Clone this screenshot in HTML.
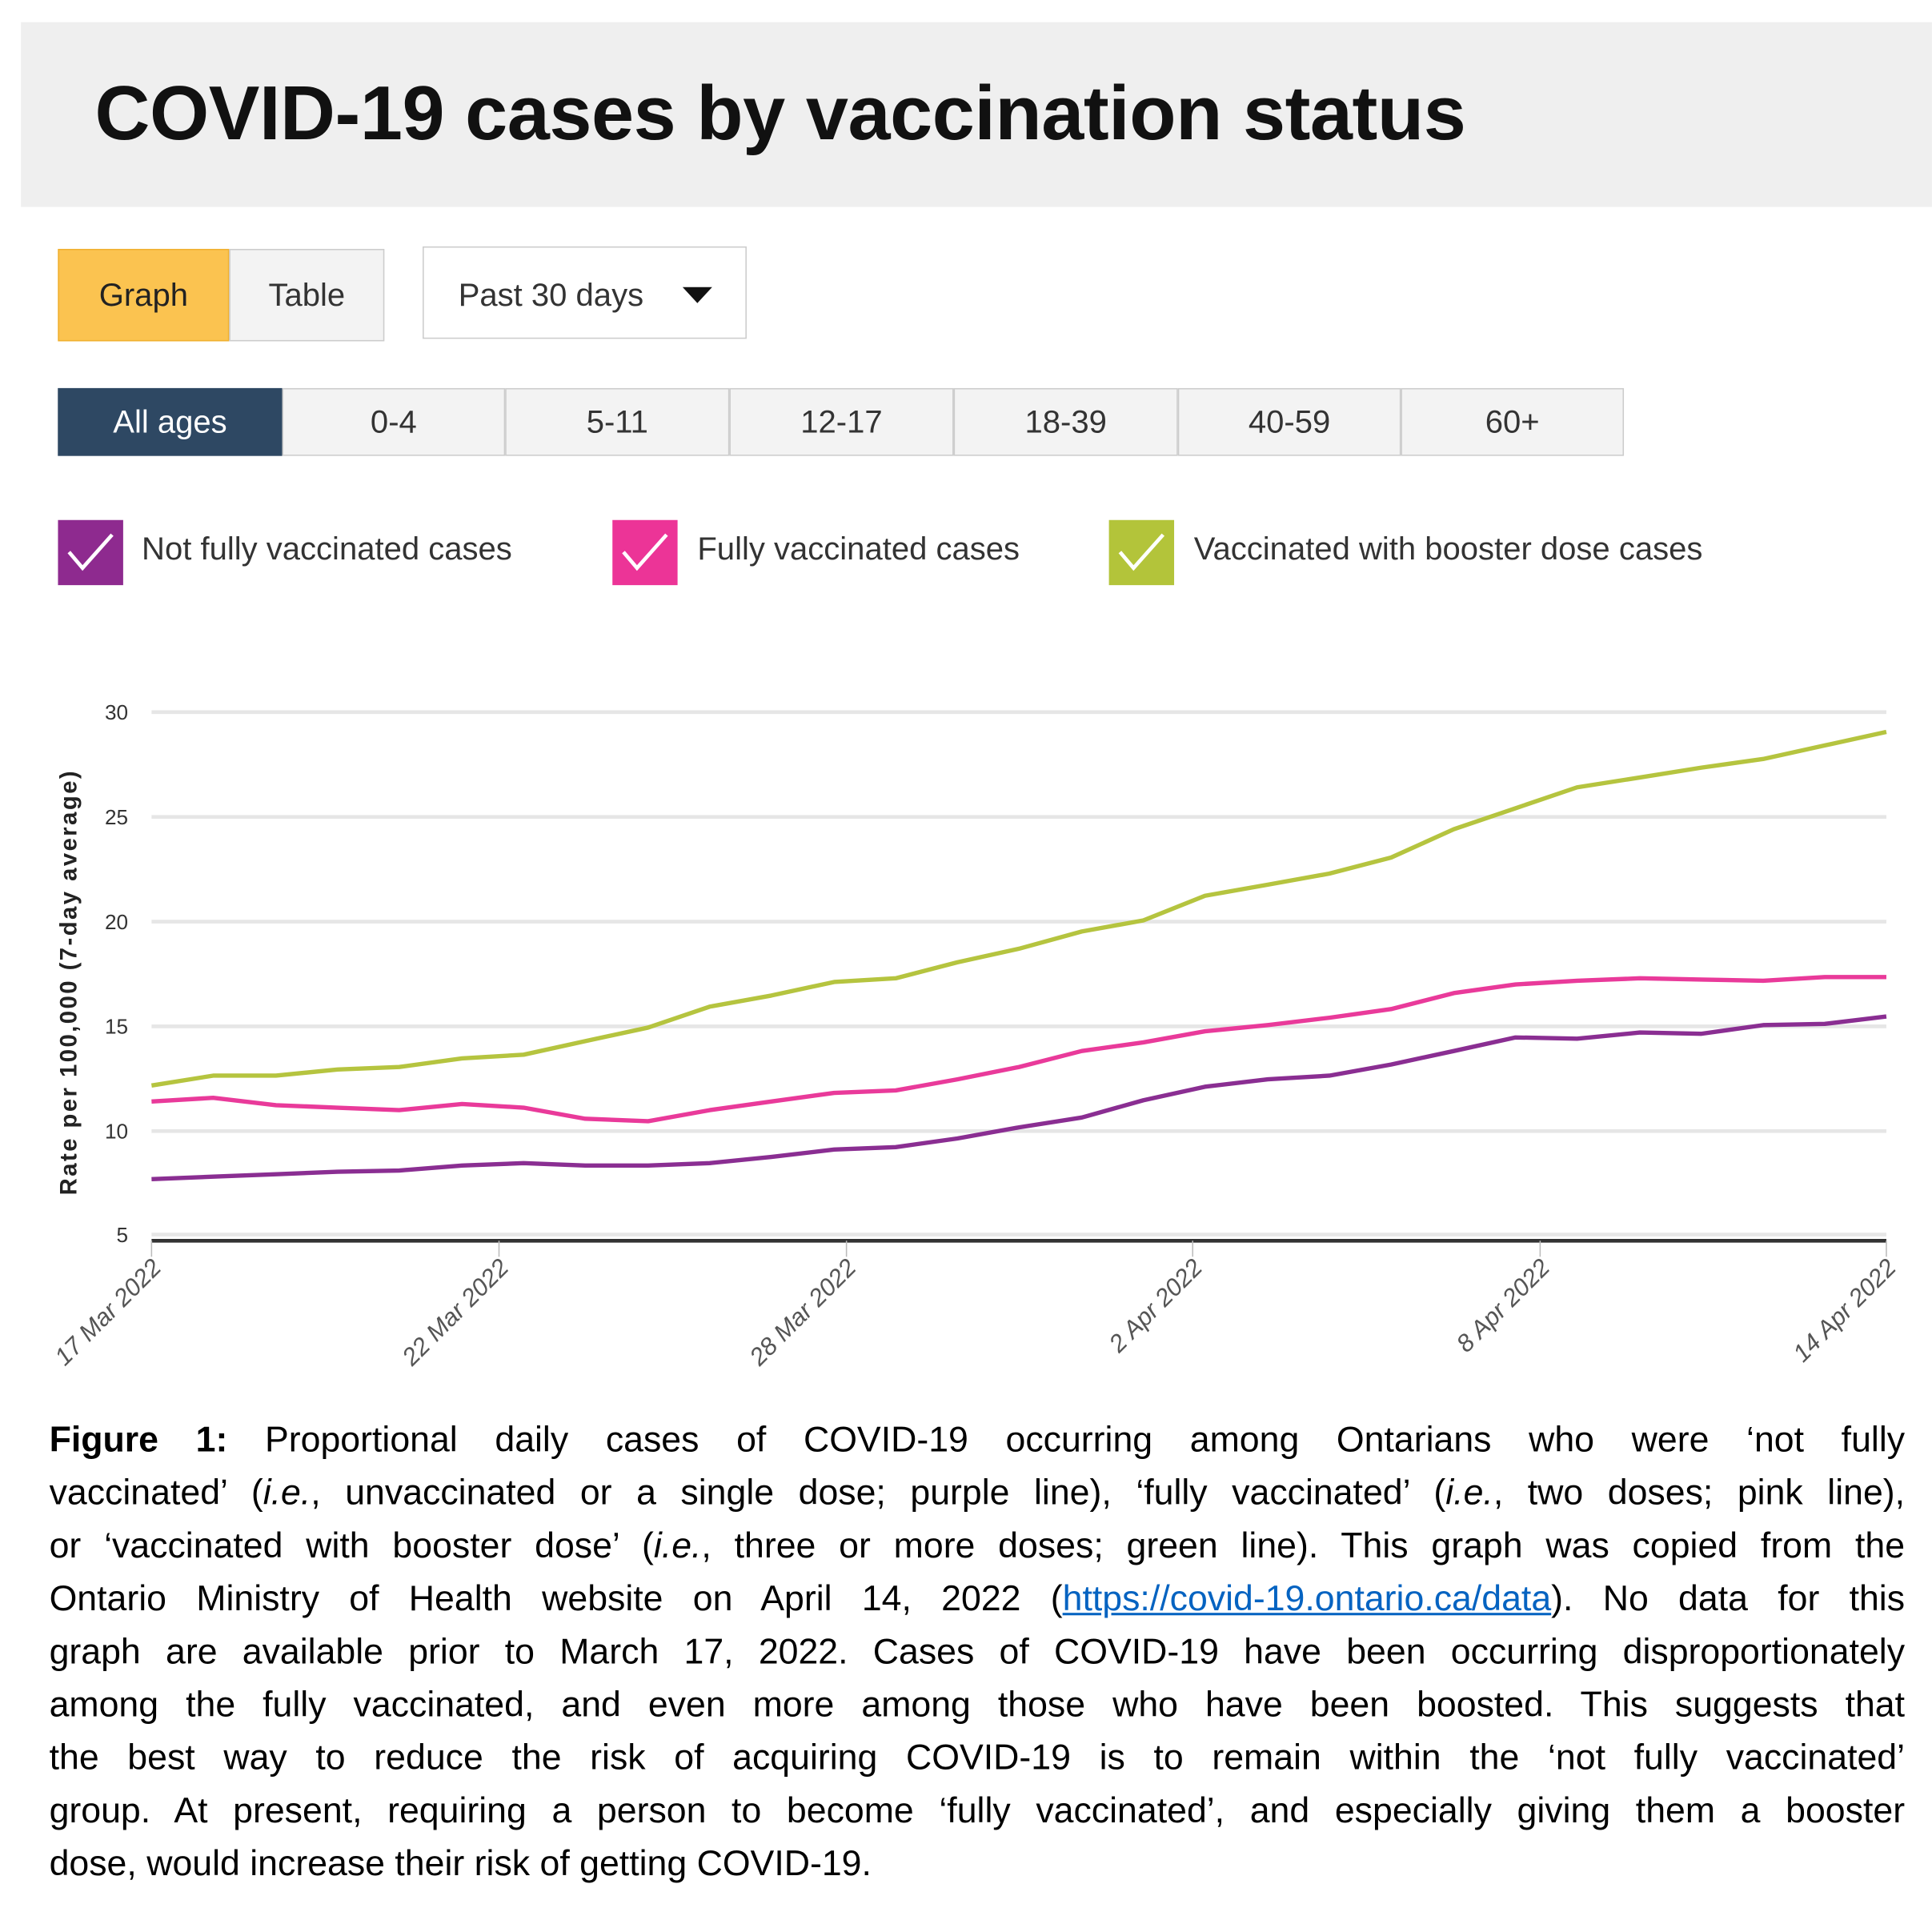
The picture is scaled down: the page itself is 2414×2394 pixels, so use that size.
<!DOCTYPE html>
<html><head><meta charset="utf-8"><style>
html,body{margin:0;padding:0;background:#fff;width:2414px;height:2394px;overflow:hidden}
#c{position:absolute;left:0;top:0;width:1568px;height:1555px;transform:scale(1.5395);transform-origin:0 0;font-family:"Liberation Sans",sans-serif}
.hdr{position:absolute;left:17px;top:18px;width:1551px;height:150px;background:#efefef}
.title{position:absolute;left:77px;top:57px;font-size:62px;font-weight:bold;color:#111;letter-spacing:-0.3px}
.btn{position:absolute;box-sizing:border-box;border:1px solid #ccc;background:#f3f3f3;font-size:26px;color:#333;text-align:center}
.leg{position:absolute;top:422px;width:53px;height:53px}
.leg svg{width:53px;height:53px}
.lt{position:absolute;top:430px;font-size:26px;color:#333}
.cap{position:absolute;left:40px;width:1506px;font-size:29px;color:#000;text-align:justify;text-align-last:justify;white-space:nowrap;line-height:43px}
.cap.last{text-align-last:left}
</style></head><body><div id="c">
<div class="hdr"></div>
<div class="title">COVID-19 cases by vaccination status</div>
<div class="btn" style="left:47px;top:202px;width:139px;height:75px;background:#fbc350;border-color:#f0b030;line-height:73px;color:#222">Graph</div>
<div class="btn" style="left:186px;top:202px;width:126px;height:75px;line-height:73px">Table</div>
<div class="btn" style="left:343px;top:200px;width:263px;height:75px;background:#fff;line-height:77px;text-align:left;padding-left:28px">Past 30 days <span style="position:absolute;left:210px;top:32px;width:0;height:0;border-left:12px solid transparent;border-right:12px solid transparent;border-top:13px solid #111"></span></div>
<div class="btn" style="left:47px;top:315px;width:182px;height:55px;background:#2e4863;border-color:#2e4863;color:#fff;line-height:53px">All ages</div>
<div class="btn" style="left:229px;top:315px;width:181px;height:55px;line-height:53px">0-4</div>
<div class="btn" style="left:410px;top:315px;width:182px;height:55px;line-height:53px">5-11</div>
<div class="btn" style="left:592px;top:315px;width:182px;height:55px;line-height:53px">12-17</div>
<div class="btn" style="left:774px;top:315px;width:182px;height:55px;line-height:53px">18-39</div>
<div class="btn" style="left:956px;top:315px;width:181px;height:55px;line-height:53px">40-59</div>
<div class="btn" style="left:1137px;top:315px;width:181px;height:55px;line-height:53px">60+</div>
<div class="leg" style="left:47px"><svg viewBox="0 0 53 53"><rect width="53" height="53" fill="#8e2a8f"/><path d="M9 26 L20 39 L44 12" stroke="#fff" stroke-width="3" fill="none"/></svg></div>
<div class="lt" style="left:115px">Not fully vaccinated cases</div>
<div class="leg" style="left:497px"><svg viewBox="0 0 53 53"><rect width="53" height="53" fill="#ec3497"/><path d="M9 26 L20 39 L44 12" stroke="#fff" stroke-width="3" fill="none"/></svg></div>
<div class="lt" style="left:566px">Fully vaccinated cases</div>
<div class="leg" style="left:900px"><svg viewBox="0 0 53 53"><rect width="53" height="53" fill="#b3c43a"/><path d="M9 26 L20 39 L44 12" stroke="#fff" stroke-width="3" fill="none"/></svg></div>
<div class="lt" style="left:969px">Vaccinated with booster dose cases</div>

<svg style="position:absolute;left:0;top:540px" width="1568" height="600" viewBox="0 540 1568 600">
<g stroke="#e6e6e6" stroke-width="3">
<line x1="123" x2="1531" y1="578" y2="578"/><line x1="123" x2="1531" y1="663" y2="663"/><line x1="123" x2="1531" y1="748" y2="748"/><line x1="123" x2="1531" y1="833" y2="833"/><line x1="123" x2="1531" y1="918" y2="918"/><line x1="123" x2="1531" y1="1002" y2="1002"/>
</g>
<line x1="123" x2="1531" y1="1007" y2="1007" stroke="#333" stroke-width="3"/>
<g stroke="#bbb" stroke-width="1"><line x1="123" x2="123" y1="1007" y2="1020"/><line x1="405" x2="405" y1="1007" y2="1020"/><line x1="687" x2="687" y1="1007" y2="1020"/><line x1="968" x2="968" y1="1007" y2="1020"/><line x1="1250" x2="1250" y1="1007" y2="1020"/><line x1="1531" x2="1531" y1="1007" y2="1020"/></g>
<g font-size="17" fill="#333" text-anchor="end" font-family="Liberation Sans,sans-serif">
<text x="104" y="584">30</text><text x="104" y="669">25</text><text x="104" y="754">20</text><text x="104" y="839">15</text><text x="104" y="924">10</text><text x="104" y="1008">5</text>
</g>
<text transform="translate(62,970) rotate(-90)" font-size="19" font-weight="bold" fill="#222" letter-spacing="1.6" font-family="Liberation Sans,sans-serif">Rate per 100,000 (7-day average)</text>
<g font-size="20" fill="#555" font-style="italic" text-anchor="end" font-family="Liberation Sans,sans-serif">
<text transform="translate(132,1030) rotate(-45)">17 Mar 2022</text>
<text transform="translate(414,1030) rotate(-45)">22 Mar 2022</text>
<text transform="translate(696,1030) rotate(-45)">28 Mar 2022</text>
<text transform="translate(977,1030) rotate(-45)">2 Apr 2022</text>
<text transform="translate(1259,1030) rotate(-45)">8 Apr 2022</text>
<text transform="translate(1540,1030) rotate(-45)">14 Apr 2022</text>
</g>
<g fill="none" stroke-width="3.5" stroke-linejoin="round">
<polyline stroke="#b5c43f" points="123,881 173,873 224,873 274,868 324,866 375,859 425,856 475,845 526,834 576,817 626,808 677,797 727,794 777,781 827,770 878,756 928,747 978,727 1029,718 1079,709 1129,696 1180,673 1230,656 1280,639 1331,631 1381,623 1431,616 1481,605 1531,594"/>
<polyline stroke="#e93a9a" points="123,894 173,891 224,897 274,899 324,901 375,896 425,899 475,908 526,910 576,901 626,894 677,887 727,885 777,876 827,866 878,853 928,846 978,837 1029,832 1079,826 1129,819 1180,806 1230,799 1280,796 1331,794 1381,795 1431,796 1481,793 1531,793"/>
<polyline stroke="#8a2e92" points="123,957 173,955 224,953 274,951 324,950 375,946 425,944 475,946 526,946 576,944 626,939 677,933 727,931 777,924 827,915 878,907 928,893 978,882 1029,876 1079,873 1129,864 1180,853 1230,842 1280,843 1331,838 1381,839 1431,832 1481,831 1531,825"/>
</g>
</svg>

<div class="cap" style="top:1148px"><b>Figure 1:</b> Proportional daily cases of COVID-19 occurring among Ontarians who were ‘not fully</div>
<div class="cap" style="top:1191px">vaccinated’ (<i>i.e.</i>, unvaccinated or a single dose; purple line), ‘fully vaccinated’ (<i>i.e.</i>, two doses; pink line),</div>
<div class="cap" style="top:1234px">or ‘vaccinated with booster dose’ (<i>i.e.</i>, three or more doses; green line). This graph was copied from the</div>
<div class="cap" style="top:1277px">Ontario Ministry of Health website on April 14, 2022 (<span style="color:#0563c1;text-decoration:underline">https://covid-19.ontario.ca/data</span>). No data for this</div>
<div class="cap" style="top:1320px">graph are available prior to March 17, 2022. Cases of COVID-19 have been occurring disproportionately</div>
<div class="cap" style="top:1363px">among the fully vaccinated, and even more among those who have been boosted. This suggests that</div>
<div class="cap" style="top:1406px">the best way to reduce the risk of acquiring COVID-19 is to remain within the ‘not fully vaccinated’</div>
<div class="cap" style="top:1449px">group. At present, requiring a person to become ‘fully vaccinated’, and especially giving them a booster</div>
<div class="cap last" style="top:1492px">dose, would increase their risk of getting COVID-19.</div>
</div></body></html>
